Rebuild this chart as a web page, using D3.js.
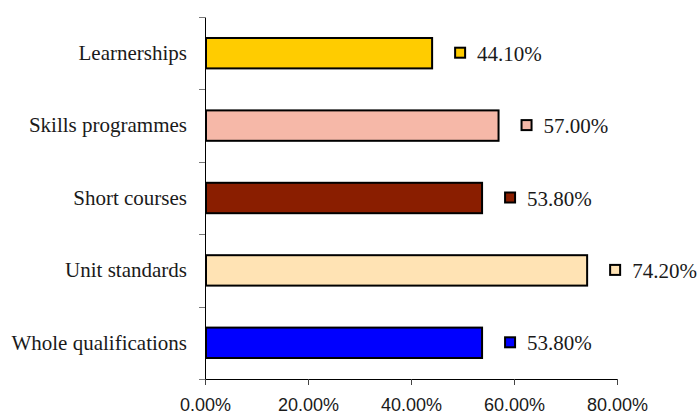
<!DOCTYPE html>
<html>
<head>
<meta charset="utf-8">
<script src="https://cdn.jsdelivr.net/npm/d3@7"></script>
<style>
  html, body { margin: 0; padding: 0; background: #fff; }
  svg { display: block; }
  .serif { font-family: "Liberation Serif", "DejaVu Serif", serif; }
  .sans { font-family: "Liberation Sans", Arial, sans-serif; }
</style>
</head>
<body>
<svg id="chart" width="700" height="415"></svg>
<script>
// Delivery modes, listed top to bottom
const categories = [
  "Learnerships",
  "Skills programmes",
  "Short courses",
  "Unit standards",
  "Whole qualifications"
];
// Share for each mode (fraction)
const values = [0.441, 0.570, 0.538, 0.742, 0.538];
// Fill colour per bar
const colors = ["#FFCC00", "#F6B8A8", "#8A1E00", "#FFE3B4", "#0000FF"];
// Value axis ticks
const xTicks = [0, 0.2, 0.4, 0.6, 0.8];

const svg = d3.select("#chart");
const margin = { top: 17, right: 83, bottom: 36, left: 205 };
const W = 700, H = 415;

const x = d3.scaleLinear()
  .domain([0, 0.8])
  .range([margin.left, W - margin.right]);

const y = d3.scaleBand()
  .domain(categories)
  .range([margin.top, H - margin.bottom])
  .paddingInner(0)
  .paddingOuter(0);

const pct = d3.format(".2%");
const barH = y.bandwidth() * 0.42;

// Bars
svg.append("g")
  .selectAll("rect")
  .data(categories)
  .join("rect")
  .attr("x", x(0) + 1)
  .attr("y", d => y(d) + (y.bandwidth() - barH) / 2)
  .attr("width", (d, i) => x(values[i]) - x(0) - 1)
  .attr("height", barH)
  .attr("fill", (d, i) => colors[i])
  .attr("stroke", "#000")
  .attr("stroke-width", 2);

// Value labels with a colour key
const lab = svg.append("g")
  .selectAll("g")
  .data(categories)
  .join("g")
  .attr("transform", (d, i) => `translate(${x(values[i])},${y(d) + y.bandwidth() / 2})`);

lab.append("rect")
  .attr("x", 23)
  .attr("y", -5.5)
  .attr("width", 10)
  .attr("height", 10)
  .attr("fill", (d, i) => colors[i])
  .attr("stroke", "#000")
  .attr("stroke-width", 2);

lab.append("text")
  .attr("class", "serif")
  .attr("x", 45)
  .attr("y", 0)
  .attr("dy", "0.36em")
  .style("font-size", "21px")
  .attr("fill", "#1a1a1a")
  .text((d, i) => pct(values[i]));

// Category axis: labels at band centres, ticks at band edges
const yAxis = svg.append("g")
  .attr("transform", `translate(${margin.left},0)`)
  .call(d3.axisLeft(y).tickSize(0).tickPadding(18));
yAxis.attr("font-family", null).attr("font-size", null);
yAxis.select(".domain").attr("stroke", "#000");
yAxis.selectAll("text")
  .attr("class", "serif")
  .style("font-size", "21px")
  .attr("fill", "#1a1a1a");

const edges = categories.map(c => y(c)).concat([y.range()[1]]);
svg.append("g")
  .selectAll("line")
  .data(edges)
  .join("line")
  .attr("x1", margin.left - 6)
  .attr("x2", margin.left)
  .attr("y1", d => Math.round(d) + 0.5)
  .attr("y2", d => Math.round(d) + 0.5)
  .attr("stroke", "#777")
  .attr("stroke-width", 1);

// Value axis
const xAxis = svg.append("g")
  .attr("transform", `translate(0,${H - margin.bottom})`)
  .call(d3.axisBottom(x).tickValues(xTicks).tickFormat(pct).tickSizeOuter(0).tickSize(6).tickPadding(13));
xAxis.attr("font-family", null).attr("font-size", null);
xAxis.select(".domain").attr("stroke", "#000");
xAxis.selectAll(".tick line").attr("stroke", "#444");
xAxis.selectAll("text")
  .attr("class", "sans")
  .style("font-size", "18px")
  .attr("fill", "#1a1a1a");
</script>
</body>
</html>
